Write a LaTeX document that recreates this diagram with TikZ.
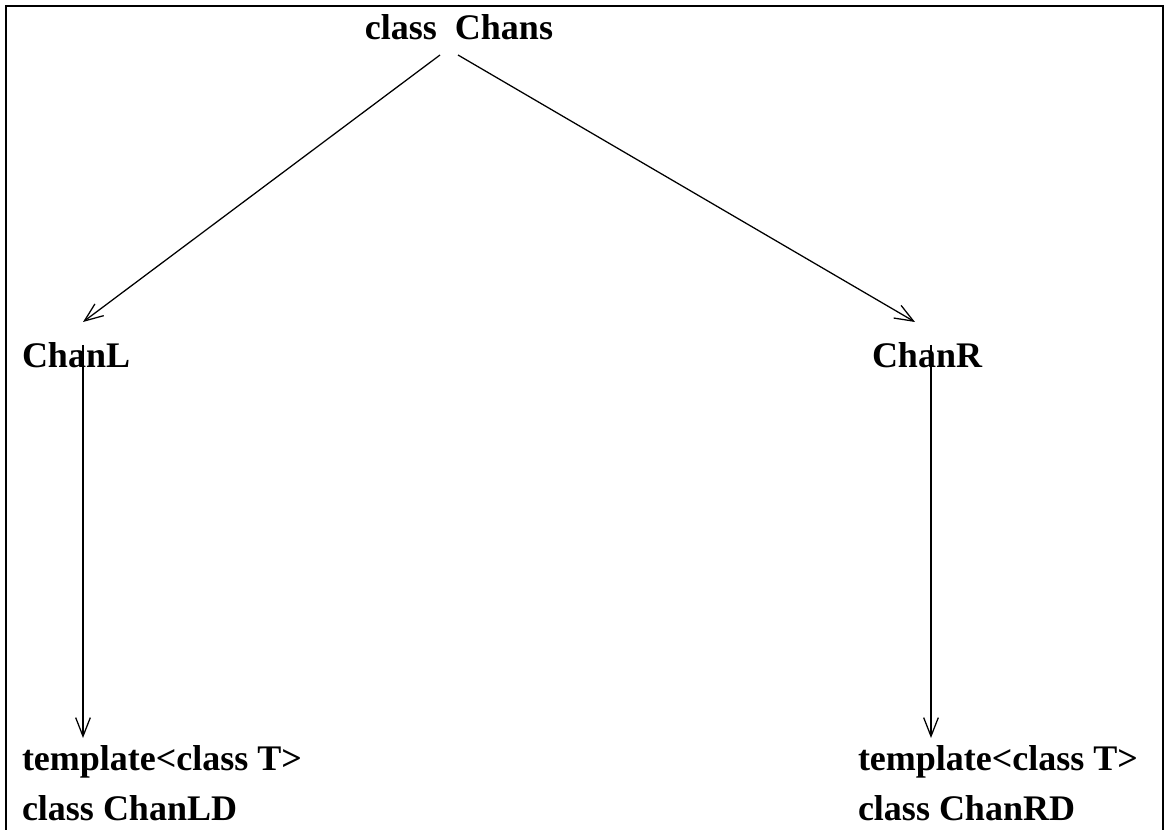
\documentclass[tikz,border=0pt]{standalone}
\usepackage{fontspec}
\setmainfont{Liberation Serif}
\usetikzlibrary{arrows.meta,calc}

\tikzset{
  lbl/.style={inner sep=0pt, outer sep=0pt, anchor=base west,
    font=\fontsize{27}{32}\selectfont\bfseries},
  link/.style={line width=0.95pt,
    -{Straight Barb[length=14pt,width=11pt,line width=0.95pt]}},
  frame/.style={line width=1.9pt}
}

\begin{document}
\begin{tikzpicture}[x=0.75pt,y=-0.75pt]
  \useasboundingbox (0,0) rectangle (1165,830);

  % open frame: left, top and right sides
  \draw[frame] (6,830) -- (6,6) -- (1163,6) -- (1163,830);

  % class nodes
  \node[lbl, anchor=base] (chans) at (459,40) {class\ \ Chans};
  \node[lbl] (chanl) at (22,368) {ChanL};
  \node[lbl] (chanr) at (872,368) {ChanR};
  \node[lbl] (tmpll) at (22,770) {template<class T>};
  \node[lbl] (clsl)  at (22,820) {class ChanLD};
  \node[lbl] (tmplr) at (858,770) {template<class T>};
  \node[lbl] (clsr)  at (858,820) {class ChanRD};

  % derivation arrows
  \draw[link] ([shift={(-19,15)}]chans.base) -- ([shift={(61,-46)}]chanl.base west);
  \draw[link] ([shift={(-1,15)}]chans.base) -- ([shift={(43,-46)}]chanr.base west);
  \draw[link] ([shift={(61,-23)}]chanl.base west) -- ([shift={(61,-32)}]tmpll.base west);
  \draw[link] ([shift={(59,-23)}]chanr.base west) -- ([shift={(73,-32)}]tmplr.base west);
\end{tikzpicture}
\end{document}
